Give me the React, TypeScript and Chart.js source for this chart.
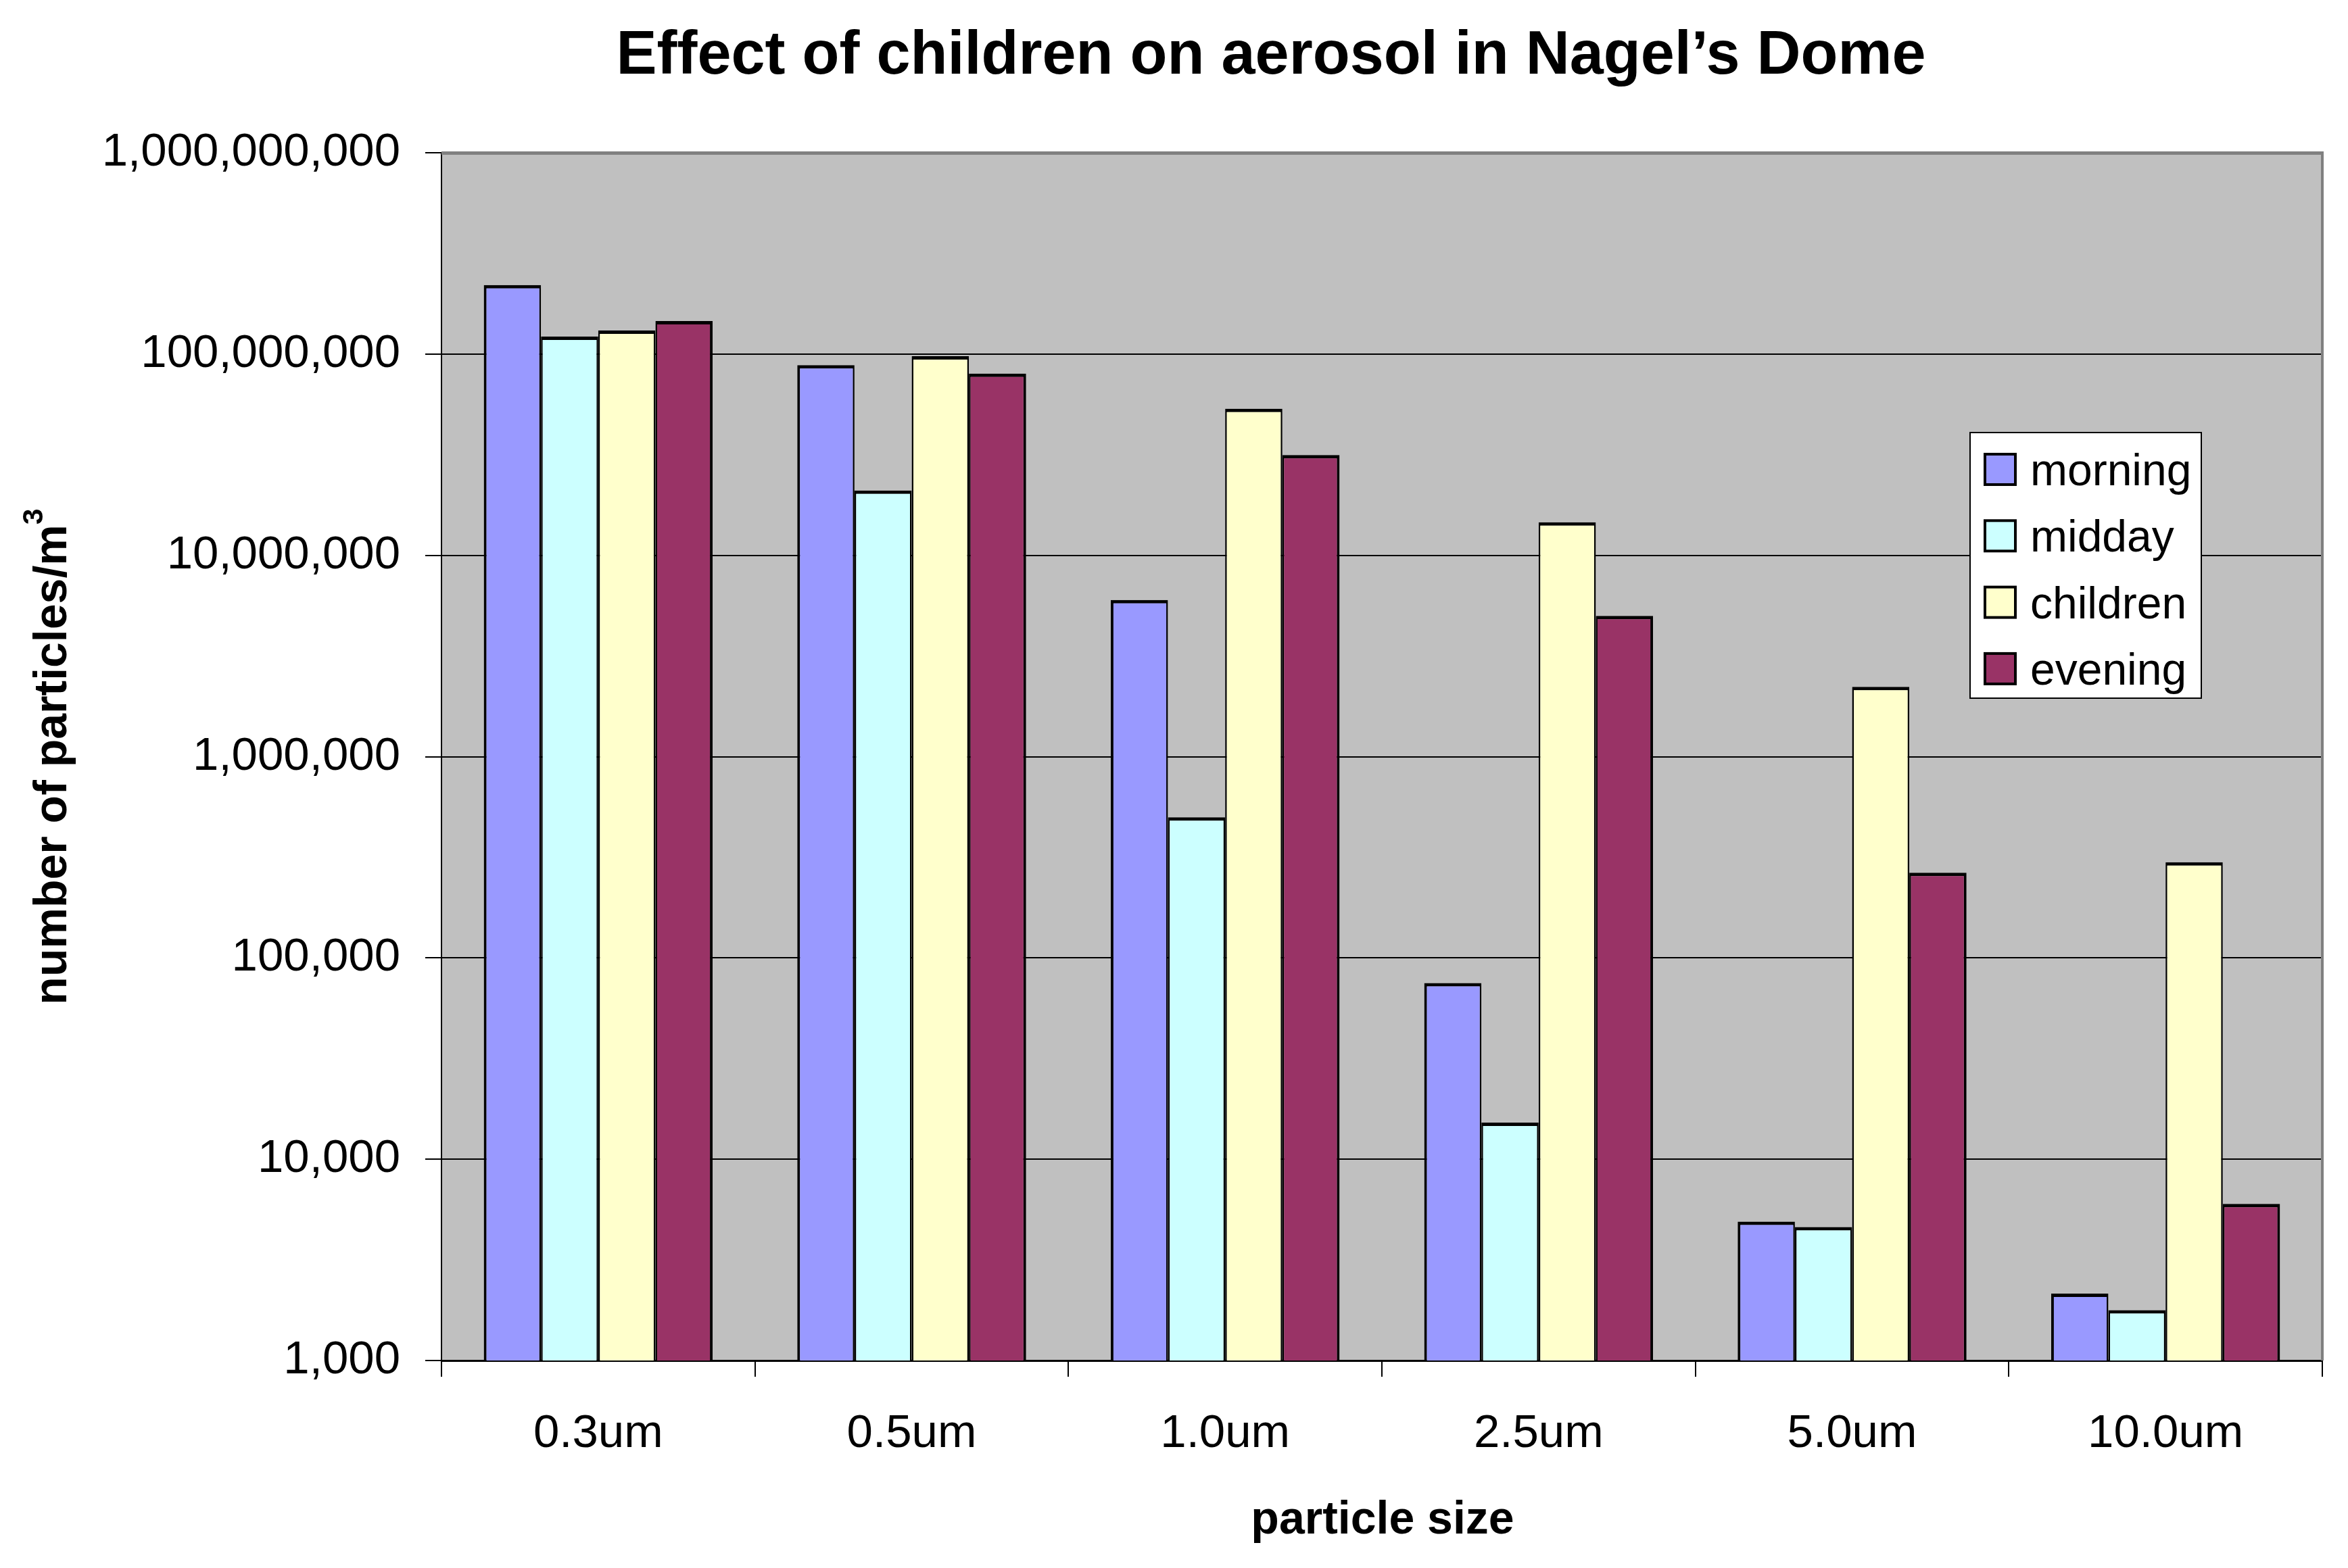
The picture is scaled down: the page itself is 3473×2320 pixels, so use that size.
import React, { useEffect, useRef } from 'react';
import { Chart, registerables } from 'chart.js';

Chart.register(...registerables);

const categories = ['0.3um', '0.5um', '1.0um', '2.5um', '5.0um', '10.0um'];
const seriesNames = ['morning', 'midday', 'children', 'evening'];
const morning = [2.2e8, 8.8e7, 6.0e6, 7.5e4, 4.9e3, 2.15e3];
const midday = [1.22e8, 2.1e7, 5.0e5, 1.52e4, 4.6e3, 1.78e3];
const children = [1.31e8, 9.75e7, 5.35e7, 1.46e7, 2.22e6, 2.99e5];
const evening = [1.46e8, 8.0e7, 3.15e7, 5.0e6, 2.65e5, 6.0e3];
const seriesColors = ['#9999FF', '#CCFFFF', '#FFFFCC', '#993366'];
const yTickValues = [1e3, 1e4, 1e5, 1e6, 1e7, 1e8, 1e9];
const chartTitle = 'Effect of children on aerosol in Nagel\u2019s Dome';
const xAxisTitle = 'particle size';
const yAxisTitle = 'number of particles/m';
const yAxisTitleSup = '3';

const FONT = '"Liberation Sans", Arial, Helvetica, sans-serif';
const W = 3473;
const H = 2320;

const decorPlugin = {
  id: 'decor',
  beforeDraw(chart: any) {
    const { ctx, chartArea: a } = chart;
    ctx.save();
    ctx.fillStyle = '#C0C0C0';
    ctx.fillRect(a.left, a.top, a.right - a.left, a.bottom - a.top);
    ctx.restore();
  },
  afterDraw(chart: any) {
    const { ctx, chartArea: a } = chart;
    ctx.save();
    // plot area border (top and right, gray)
    ctx.fillStyle = '#808080';
    ctx.fillRect(a.left, a.top - 2, a.right - a.left + 2, 5);
    ctx.fillRect(a.right - 2, a.top - 2, 4, a.bottom - a.top + 2);

    // chart title
    ctx.fillStyle = '#000';
    ctx.textBaseline = 'alphabetic';
    ctx.textAlign = 'center';
    ctx.font = `bold 90px ${FONT}`;
    ctx.fillText(chartTitle, 1880, 109);

    // x axis title
    ctx.font = `bold 68px ${FONT}`;
    ctx.fillText(xAxisTitle, 2045, 2269);

    // y axis title (rotated, with superscript)
    ctx.save();
    ctx.translate(98, (a.top + a.bottom) / 2);
    ctx.rotate(-Math.PI / 2);
    ctx.textAlign = 'left';
    ctx.font = `bold 68px ${FONT}`;
    const w1 = ctx.measureText(yAxisTitle).width;
    ctx.font = `bold 43px ${FONT}`;
    const w2 = ctx.measureText(yAxisTitleSup).width;
    const start = -(w1 + w2) / 2;
    ctx.font = `bold 68px ${FONT}`;
    ctx.fillText(yAxisTitle, start, 0);
    ctx.font = `bold 43px ${FONT}`;
    ctx.fillText(yAxisTitleSup, start + w1, -35);
    ctx.restore();

    // legend
    const lx = 2914, ly = 640, lw = 342, lh = 393;
    ctx.fillStyle = '#FFFFFF';
    ctx.fillRect(lx, ly, lw, lh);
    ctx.strokeStyle = '#000';
    ctx.lineWidth = 2;
    ctx.strokeRect(lx, ly, lw, lh);
    ctx.font = `66px ${FONT}`;
    ctx.textAlign = 'left';
    chart.data.datasets.forEach((ds: any, i: number) => {
      const sy = 672 + i * 98.3;
      ctx.fillStyle = ds.backgroundColor;
      ctx.fillRect(2936, sy, 45, 45);
      ctx.strokeStyle = '#000';
      ctx.lineWidth = 4;
      ctx.strokeRect(2936, sy, 45, 45);
      ctx.fillStyle = '#000';
      ctx.fillText(ds.label, 3003, 718 + i * 98.3);
    });
    ctx.restore();
  },
};

export default function App() {
  const ref = useRef<HTMLCanvasElement | null>(null);

  useEffect(() => {
    if (!ref.current) return;
    const seriesValues = [morning, midday, children, evening];
    const last = seriesNames.length - 1;
    const chart = new Chart(ref.current, {
      type: 'bar',
      data: {
        labels: categories,
        datasets: seriesNames.map((name, i) => ({
          label: name,
          data: seriesValues[i],
          backgroundColor: seriesColors[i],
          borderColor: '#000000',
          borderWidth: {
            top: 5,
            left: i === 0 ? 4 : 2.5,
            right: i === last ? 4 : 2.5,
            bottom: 0,
          },
          borderSkipped: false,
          categoryPercentage: 0.73,
          barPercentage: 1,
        })),
      },
      options: {
        responsive: false,
        animation: false,
        devicePixelRatio: 1,
        layout: { padding: { left: 0, top: 226, right: W - 3435, bottom: 0 } },
        plugins: {
          legend: { display: false },
          title: { display: false },
          tooltip: { enabled: false },
        },
        scales: {
          x: {
            type: 'category',
            offset: true,
            grid: {
              display: true,
              drawOnChartArea: false,
              drawTicks: true,
              tickLength: 24,
              color: '#000',
              lineWidth: 2,
              offset: true,
            },
            border: { display: true, color: '#000', width: 3 },
            ticks: {
              font: { family: FONT, size: 69 },
              color: '#000',
              padding: 44,
              maxRotation: 0,
              autoSkip: false,
            },
            afterFit: (s: any) => {
              s.height = H - 2013;
            },
          },
          y: {
            type: 'logarithmic',
            min: 1e3,
            max: 1e9,
            afterBuildTicks: (s: any) => {
              s.ticks = yTickValues.map((v) => ({ value: v }));
            },
            afterFit: (s: any) => {
              s.width = 653;
            },
            grid: { color: '#000', lineWidth: 2, tickLength: 24, drawTicks: true },
            border: { display: true, color: '#000', width: 2 },
            ticks: {
              font: { family: FONT, size: 69 },
              color: '#000',
              padding: 37,
              autoSkip: false,
              callback: (v: any) => Number(v).toLocaleString('en-US'),
            },
          },
        },
      },
      plugins: [decorPlugin],
    } as any);
    return () => chart.destroy();
  }, []);

  return (
    <canvas
      ref={ref}
      width={W}
      height={H}
      style={{ position: 'absolute', left: 0, top: 0, width: W, height: H, display: 'block' }}
    />
  );
}
